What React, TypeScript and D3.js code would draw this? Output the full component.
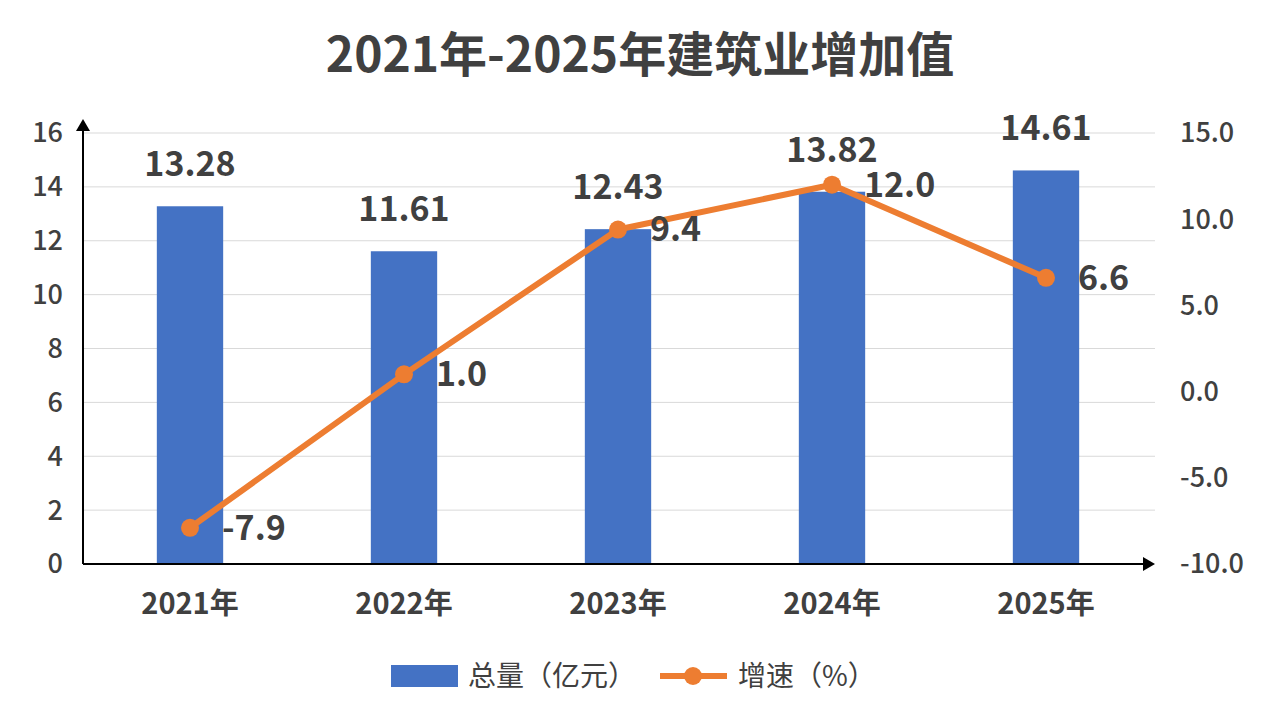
import React from 'react';
import * as d3 from 'd3';

const years = ['2021年', '2022年', '2023年', '2024年', '2025年'];
const totals = [13.28, 11.61, 12.43, 13.82, 14.61];
const growth = [-7.9, 1.0, 9.4, 12.0, 6.6];
const leftTicks = [0, 2, 4, 6, 8, 10, 12, 14, 16];
const rightTicks = [-10, -5, 0, 5, 10, 15];

const W = 1280, H = 728;
const left = 83, right = 1155, top = 133, bottom = 564;
const font = '"Noto Sans CJK SC", "Noto Sans", sans-serif';

export default function App() {
  const x = d3.scaleBand<string>().domain(years).range([left, right - 2]).paddingInner(0.69).paddingOuter(0.345);
  const yL = d3.scaleLinear().domain([0, 16]).range([bottom, top]);
  const yR = d3.scaleLinear().domain([-10, 15]).range([bottom, top]);
  const cx = (i: number) => (x(years[i]) as number) + x.bandwidth() / 2;
  const line = d3.line<number>().x((_, i) => cx(i)).y((d) => yR(d));

  return (
    <svg width={W} height={H} style={{ display: 'block', margin: -8, fontFamily: font }}>
      <rect x={0.5} y={0.5} width={W - 1} height={H - 1} rx={6} fill="#fff" stroke="#bfbfbf" />
      <text x={640} y={72} textAnchor="middle" fontSize={48} fontWeight="bold" fill="#404040">
        2021年-2025年建筑业增加值
      </text>
      {leftTicks.slice(1).map((t) => (
        <line key={t} x1={left} x2={right} y1={yL(t)} y2={yL(t)} stroke="#d9d9d9" strokeWidth={1} />
      ))}
      {leftTicks.map((t) => (
        <text key={t} x={left - 20} y={yL(t)} dy="0.35em" textAnchor="end" fontSize={27} fontWeight={500} fill="#404040">{t}</text>
      ))}
      {rightTicks.map((t) => (
        <text key={t} x={right + 25} y={yR(t)} dy="0.35em" textAnchor="start" fontSize={27} fontWeight={500} fill="#404040">{t.toFixed(1)}</text>
      ))}
      {totals.map((v, i) => (
        <g key={i}>
          <rect x={x(years[i])} y={yL(v)} width={x.bandwidth()} height={bottom - yL(v)} fill="#4472C4" />
          <text x={cx(i)} y={yL(v) - 30} textAnchor="middle" fontSize={34} fontWeight="bold" fill="#404040">{v.toFixed(2)}</text>
          <text x={cx(i)} y={614} textAnchor="middle" fontSize={29} fontWeight="bold" fill="#404040">{years[i]}</text>
        </g>
      ))}
      <line x1={left} x2={left} y1={bottom} y2={top - 5} stroke="#000" strokeWidth={2} />
      <path d={`M${left - 7},${top - 2} L${left},${top - 14} L${left + 7},${top - 2} Z`} fill="#000" />
      <line x1={left} x2={right - 10} y1={bottom} y2={bottom} stroke="#000" strokeWidth={2} />
      <path d={`M${right - 12},${bottom - 7} L${right},${bottom} L${right - 12},${bottom + 7} Z`} fill="#000" />
      <path d={line(growth) || ''} fill="none" stroke="#ED7D31" strokeWidth={6} strokeLinejoin="round" />
      {growth.map((v, i) => (
        <g key={i}>
          <circle cx={cx(i)} cy={yR(v)} r={9} fill="#ED7D31" />
          <text x={cx(i) + 32} y={yR(v)} dy="0.35em" fontSize={34} fontWeight="bold" fill="#404040">{v.toFixed(1)}</text>
        </g>
      ))}
      <rect x={391} y={665} width={67} height={22} fill="#4472C4" />
      <text x={468} y={676} dy="0.35em" fontSize={28} fill="#404040">总量（亿元）</text>
      <line x1={660} x2={727} y1={676} y2={676} stroke="#ED7D31" strokeWidth={6} />
      <circle cx={693} cy={676} r={9} fill="#ED7D31" />
      <text x={738} y={676} dy="0.35em" fontSize={28} fill="#404040">增速（%）</text>
    </svg>
  );
}
